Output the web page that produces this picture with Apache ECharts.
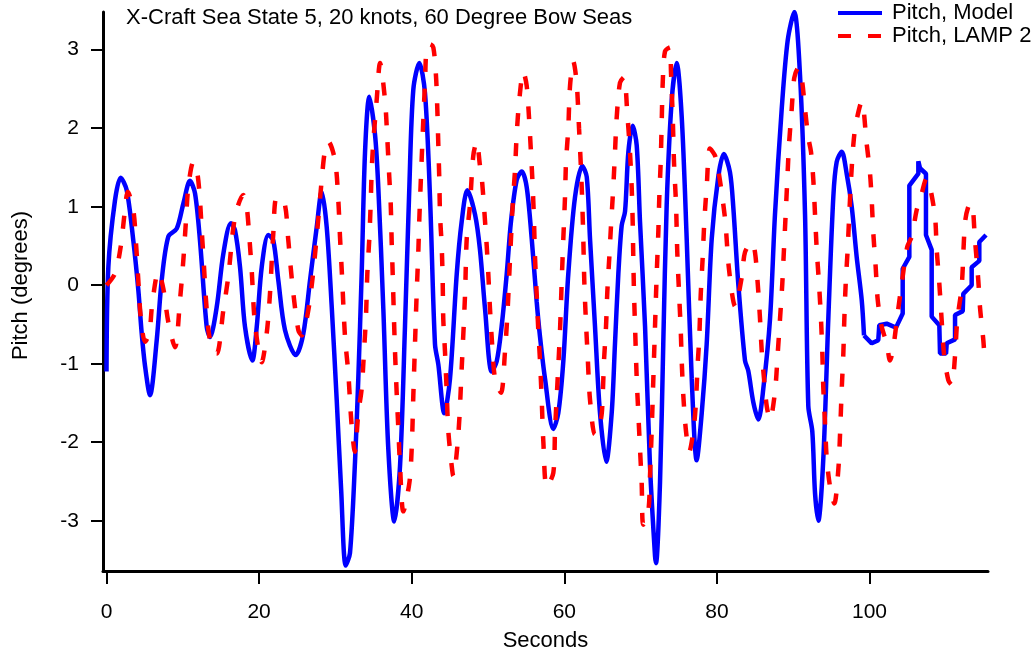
<!DOCTYPE html>
<html>
<head>
<meta charset="utf-8">
<title>X-Craft Pitch</title>
<script src="https://cdn.jsdelivr.net/npm/echarts@6/dist/echarts.min.js"></script>
<style>
  html, body { margin: 0; padding: 0; background: #fff; }
  #chart { width: 1036px; height: 654px; }
</style>
</head>
<body>
<div id="chart"></div>
<script>
// Pitch time histories (seconds, degrees)
const modelTime = [
  0.00, 0.24, 1.11, 1.86, 2.65, 3.51, 4.17, 4.61, 5.05, 5.70, 6.58, 7.23, 8.10, 9.20, 10.07, 10.94,
  11.60, 12.25, 13.13, 13.56, 14.44, 15.31, 16.30, 16.84, 17.50, 18.15, 19.11, 19.69, 20.34, 21.21,
  21.86, 22.52, 23.39, 24.80, 25.79, 26.67, 27.55, 28.20, 28.86, 29.52, 30.17, 30.75, 31.35, 31.91,
  32.57, 33.00, 33.44, 33.88, 34.44, 35.19, 35.62, 36.28, 36.93, 37.72, 38.47, 39.12, 39.69, 40.21,
  41.00, 41.74, 42.40, 43.05, 43.49, 44.27, 45.02, 45.90, 46.55, 47.29, 48.30, 48.95, 49.61, 50.48,
  51.14, 51.79, 52.45, 53.01, 53.76, 54.42, 55.07, 55.73, 56.38, 56.82, 57.47, 58.56, 59.21, 59.87,
  60.52, 61.40, 62.36, 62.94, 63.37, 64.02, 64.68, 65.50, 66.21, 66.64, 67.08, 67.52, 67.96, 68.39,
  68.96, 69.49, 69.92, 70.58, 71.23, 71.89, 72.02, 72.54, 72.97, 73.42, 74.08, 74.73, 75.39, 76.04,
  76.70, 77.35, 78.01, 78.66, 79.32, 80.18, 80.90, 81.71, 82.15, 82.80, 83.68, 84.11, 84.77, 85.43,
  86.08, 86.96, 87.61, 88.49, 89.28, 90.14, 90.89, 91.55, 91.98, 92.50, 92.86, 93.29, 93.95, 94.60,
  95.26, 95.70, 96.36, 97.01, 97.67, 98.32, 98.98, 99.28
];
const modelPitch = [
  -1.10, 0.23, 1.08, 1.37, 1.21, 0.57, -0.06, -0.61, -1.03, -1.40, -0.70, 0.06, 0.62, 0.72, 1.04, 1.33,
  1.17, 0.57, -0.53, -0.66, -0.28, 0.40, 0.79, 0.70, 0.23, -0.53, -0.96, -0.53, 0.23, 0.64,
  0.57, 0.06, -0.57, -0.89, -0.62, 0.06, 0.74, 1.19, 0.74, -0.28, -1.46, -2.60, -3.57, -3.41,
  -2.25, -1.19, 0.14, 1.69, 2.40, 1.92, 1.25, -0.30, -2.08, -3.01, -2.30, -0.52, 1.25, 2.49,
  2.83, 2.45, 1.12, -0.75, -1.01, -1.63, -1.19, 0.14, 0.81, 1.21, 0.90, 0.45, -0.30, -1.10,
  -0.97, -0.52, 0.14, 0.81, 1.34, 1.45, 1.25, 0.59, -0.21, -0.66, -1.19, -1.83, -1.63, -0.97,
  0.14, 1.12, 1.52, 1.38, 0.59, -0.52, -1.63, -2.25, -1.63, -0.75, 0.14, 0.76, 0.94, 1.69,
  2.03, 1.78, 0.81, -0.52, -2.30, -3.45, -3.54, -2.52, -0.75, 1.03, 2.36, 2.83, 2.14, 0.59,
  -1.19, -2.23, -1.63, -0.75, 0.59, 1.38, 1.67, 1.44, 0.99, 0.02, -0.96, -1.09, -1.49, -1.71,
  -1.32, -0.43, 0.90, 2.24, 3.12, 3.48, 2.68, 0.90, -1.54, -1.86, -2.65, -3.00, -2.20, -0.43,
  1.13, 1.57, 1.70, 1.42, 1.00, 0.36, -0.19, -0.64
];
// Final stretch of the model record is stepwise and drawn with straight segments
const modelTailTime = [
  99.28, 100.29, 101.15, 101.28, 102.25, 103.47, 104.35, 104.35, 105.22, 105.22, 106.40, 106.40,
  106.62, 107.40, 107.40, 108.15, 108.15, 109.15, 109.24, 110.03, 110.12, 111.21, 111.21, 112.22,
  112.29, 113.39, 113.39, 114.39, 114.39, 115.27
];
const modelTailPitch = [
  -0.64, -0.74, -0.70, -0.51, -0.49, -0.54, -0.36, 0.21, 0.36, 1.27, 1.42, 1.58,
  1.49, 1.42, 0.64, 0.45, -0.40, -0.51, -0.87, -0.87, -0.74, -0.69, -0.38, -0.33,
  -0.11, 0.00, 0.23, 0.31, 0.55, 0.64
];

const lampTime = [
  0.00, 1.11, 1.86, 2.42, 2.78, 3.51, 3.87, 4.17, 4.48, 5.05, 5.61, 6.00, 6.79, 7.44, 8.10, 8.98,
  9.63, 10.07, 10.42, 10.72, 11.38, 11.90, 12.25, 12.48, 12.78, 13.04, 13.56, 14.44, 15.31, 15.96,
  16.84, 17.93, 18.37, 18.68, 19.03, 19.46, 20.34, 21.00, 21.43, 21.86, 22.31, 23.30, 23.83, 24.05,
  24.48, 25.14, 25.58, 26.37, 26.97, 27.55, 28.28, 28.64, 29.07, 29.95, 30.38, 30.60, 30.83, 31.26,
  31.69, 32.10, 32.55, 33.00, 33.44, 33.75, 34.01, 34.18, 34.44, 34.62, 34.76, 34.97, 35.41, 35.85,
  36.50, 36.80, 37.06, 37.25, 37.38, 37.51, 37.68, 37.81, 38.03, 38.24, 38.47, 38.90, 39.69, 40.00,
  40.21, 40.43, 40.66, 40.86, 41.00, 41.18, 41.44, 41.74, 41.97, 42.40, 42.83, 43.18, 43.36, 43.49,
  43.62, 43.71, 43.93, 44.06, 44.14, 44.36, 44.59, 44.80, 45.24, 45.45, 46.11, 46.55, 46.99, 47.21,
  47.64, 48.07, 48.52, 48.95, 49.17, 49.52, 49.83, 50.04, 50.26, 50.48, 50.92, 51.70, 52.23, 52.53,
  52.79, 53.01, 53.24, 53.54, 53.76, 54.10, 54.63, 55.07, 55.37, 55.63, 55.86, 56.03, 56.16, 56.38,
  56.59, 56.82, 57.04, 57.25, 57.69, 58.56, 58.78, 59.13, 59.44, 59.66, 59.87, 60.09, 60.22, 60.52,
  60.75, 61.18, 61.62, 61.93, 62.19, 62.36, 62.49, 62.62, 62.80, 63.07, 63.37, 64.02, 64.81, 65.03,
  65.20, 65.47, 65.64, 65.90, 66.12, 66.42, 66.64, 66.87, 67.30, 67.82, 68.26, 68.61, 68.83, 68.96,
  69.04, 69.13, 69.27, 69.49, 69.70, 69.92, 70.14, 70.35, 71.01, 71.23, 71.45, 71.67, 71.89, 72.11,
  72.32, 72.45, 72.63, 72.76, 72.90, 73.20, 73.85, 73.98, 74.21, 74.38, 74.64, 74.81, 75.03, 75.26,
  75.39, 75.60, 75.95, 76.38, 76.91, 77.22, 77.48, 77.69, 77.88, 78.14, 78.35, 78.66, 79.09, 79.75,
  80.18, 81.06, 81.60, 82.40, 83.25, 83.68, 84.56, 84.99, 85.35, 85.65, 85.87, 86.21, 86.53, 86.96,
  87.61, 87.97, 88.27, 88.57, 88.79, 89.01, 89.23, 89.45, 89.80, 90.14, 90.67, 91.11, 91.55, 91.98,
  92.33, 92.63, 92.86, 93.08, 93.38, 93.64, 93.82, 93.95, 94.17, 94.39, 94.82, 95.39, 95.92, 96.14,
  96.36, 96.57, 96.70, 96.88, 97.14, 97.31, 97.58, 97.88, 98.20, 98.98, 99.63, 100.07, 100.29, 100.50,
  100.81, 101.08, 101.60, 102.25, 102.69, 103.12, 103.64, 104.22, 104.95, 105.53, 106.19, 106.62,
  107.50, 107.93, 108.59, 108.81, 109.15, 109.46, 109.76, 110.33, 110.77, 111.20, 111.50, 112.08,
  112.51, 112.95, 113.39, 113.83, 114.26, 114.48, 114.92, 115.01
];
const lampPitch = [
  0.00, 0.15, 0.49, 0.96, 1.19, 0.96, 0.53, 0.06, -0.40, -0.72, -0.61, -0.23, 0.17, -0.04, -0.47, -0.79,
  -0.19, 0.32, 0.83, 1.25, 1.57, 1.43, 1.08, 0.70, 0.23, -0.19, -0.70, -0.87, -0.32, 0.11,
  0.87, 1.15, 1.00, 0.66, 0.19, -0.49, -0.98, -0.61, -0.10, 0.66, 1.12, 1.06, 0.57, 0.32,
  -0.10, -0.57, -0.64, -0.36, 0.06, 0.62, 1.42, 1.72, 1.83, 1.59, 1.08, 0.62, 0.19, -0.66,
  -1.12, -1.75, -2.12, -1.63, -1.32, -0.84, -0.39, 0.14, 0.59, 1.03, 1.47, 1.83, 2.36, 2.83,
  2.36, 1.87, 1.38, 1.03, 0.54, 0.14, -0.44, -0.84, -1.37, -1.81, -2.30, -2.88, -2.52, -2.08,
  -1.41, -0.75, -0.08, 0.41, 0.85, 1.30, 1.92, 2.58, 3.03, 3.07, 3.03, 2.67, 2.23, 1.78,
  1.34, 0.90, 0.50, 0.05, -0.44, -0.84, -1.37, -1.86, -2.30, -2.43, -1.90, -1.06, -0.12, 0.59,
  1.03, 1.65, 1.83, 1.52, 1.38, 0.94, 0.50, 0.14, -0.30, -0.66, -1.19, -1.37, -0.84, -0.39,
  0.14, 0.59, 1.03, 1.47, 1.92, 2.36, 2.72, 2.54, 2.14, 1.69, 1.25, 0.81, 0.36, -0.12,
  -0.57, -0.97, -1.46, -1.99, -2.57, -2.39, -1.86, -1.19, -0.57, 0.05, 0.59, 1.12, 1.56, 2.00,
  2.54, 2.85, 2.58, 2.00, 1.47, 1.03, 0.59, 0.05, -0.39, -0.92, -1.46, -1.90, -1.70, -1.41,
  -0.97, -0.52, -0.08, 0.36, 0.76, 1.25, 1.69, 2.14, 2.58, 2.65, 2.18, 1.69, 1.25, 0.81,
  0.36, -0.08, -0.52, -1.19, -1.63, -2.08, -2.52, -3.05, -2.88, -2.43, -1.86, -1.19, -0.52, 0.14,
  0.67, 1.12, 1.56, 2.05, 2.58, 2.98, 3.03, 2.72, 2.14, 1.56, 1.03, 0.41, -0.08, -0.57,
  -0.97, -1.41, -1.86, -2.12, -1.86, -1.54, -1.01, -0.66, -0.12, 0.36, 0.81, 1.25, 1.74, 1.65,
  1.47, 0.85, 0.19, -0.27, 0.10, 0.42, 0.55, 0.42, 0.02, -0.43, -0.83, -1.23, -1.54, -1.71,
  -1.36, -0.87, -0.43, 0.02, 0.46, 0.90, 1.35, 1.79, 2.24, 2.64, 2.77, 2.64, 2.24, 1.88,
  1.70, 1.35, 0.90, 0.46, 0.02, -0.43, -0.87, -1.32, -1.76, -2.20, -2.56, -2.78, -2.34, -1.89,
  -1.32, -0.87, -0.43, 0.02, 0.46, 0.82, 1.35, 1.79, 2.05, 2.34, 1.80, 1.42, 1.08, 0.66,
  0.23, -0.19, -0.53, -0.74, -0.96, -0.79, -0.40, 0.02, 0.49, 0.62, 0.96, 1.08,
  1.36, 1.25, 0.87, 0.45, 0.02, -0.45, -0.87, -1.21, -1.27, -0.91, -0.45, -0.02,
  0.79, 1.00, 1.04, 0.57, 0.06, -0.28, -0.70, -0.83
];

const xTicks = [0, 20, 40, 60, 80, 100];
const yTicks = [-3, -2, -1, 0, 1, 2, 3];

const FONT = '"Liberation Sans", Arial, sans-serif';
const BLUE = '#0000ff';
const RED = '#ff0000';
const pairs = (xs, ys) => xs.map((x, i) => [x, ys[i]]);

const chart = echarts.init(document.getElementById('chart'), null, { renderer: 'canvas' });
chart.setOption({
  animation: false,
  backgroundColor: '#ffffff',
  title: {
    text: 'X-Craft Sea State 5, 20 knots, 60 Degree Bow Seas',
    left: 121, top: 2,
    textStyle: { fontFamily: FONT, fontSize: 22, fontWeight: 'normal', color: '#000' }
  },
  legend: {
    orient: 'vertical',
    left: 836, top: 2, padding: 0,
    itemWidth: 44, itemHeight: 20, itemGap: 1,
    itemStyle: { opacity: 0 },
    lineStyle: { width: 4 },
    textStyle: { fontFamily: FONT, fontSize: 22, color: '#000', lineHeight: 20, padding: [0, 0, 0, 5] },
    data: ['Pitch, Model', 'Pitch, LAMP 2']
  },
  grid: { left: 103, right: 48, top: 12, bottom: 83, outerBoundsMode: 'none' },
  xAxis: {
    type: 'value',
    min: -0.46, max: 115.53,
    name: 'Seconds', nameLocation: 'middle', nameGap: 59,
    nameTextStyle: { fontFamily: FONT, fontSize: 22, color: '#000' },
    axisLine: { onZero: false, lineStyle: { color: '#000', width: 3 } },
    axisTick: { show: true, length: 13, customValues: xTicks, lineStyle: { color: '#000', width: 2 } },
    axisLabel: { customValues: xTicks, fontFamily: FONT, fontSize: 21, color: '#000', margin: 31 },
    splitLine: { show: false }
  },
  yAxis: {
    type: 'value',
    min: -3.64, max: 3.48,
    name: 'Pitch (degrees)', nameLocation: 'middle', nameGap: 71, nameRotate: 90,
    nameTextStyle: { fontFamily: FONT, fontSize: 22, color: '#000', padding: [0, 0, 0, 12] },
    axisLine: { onZero: false, lineStyle: { color: '#000', width: 3 } },
    axisTick: { show: true, length: 12, customValues: yTicks, lineStyle: { color: '#000', width: 2 } },
    axisLabel: { customValues: yTicks, fontFamily: FONT, fontSize: 21, color: '#000', margin: 24 },
    splitLine: { show: false }
  },
  series: [
    {
      name: 'Pitch, Model',
      type: 'line',
      data: pairs(modelTime, modelPitch),
      symbol: 'none',
      smooth: 0.3,
      color: BLUE,
      lineStyle: { color: BLUE, width: 4.5 },
      z: 2
    },
    {
      name: 'Pitch, Model',
      type: 'line',
      data: pairs(modelTailTime, modelTailPitch),
      symbol: 'none',
      color: BLUE,
      lineStyle: { color: BLUE, width: 4.5 },
      z: 2
    },
    {
      name: 'Pitch, LAMP 2',
      type: 'line',
      data: pairs(lampTime, lampPitch),
      symbol: 'none',
      smooth: 0.3,
      color: RED,
      lineStyle: { color: RED, width: 4.5, type: [13, 17] },
      z: 3
    }
  ]
});
</script>
</body>
</html>
